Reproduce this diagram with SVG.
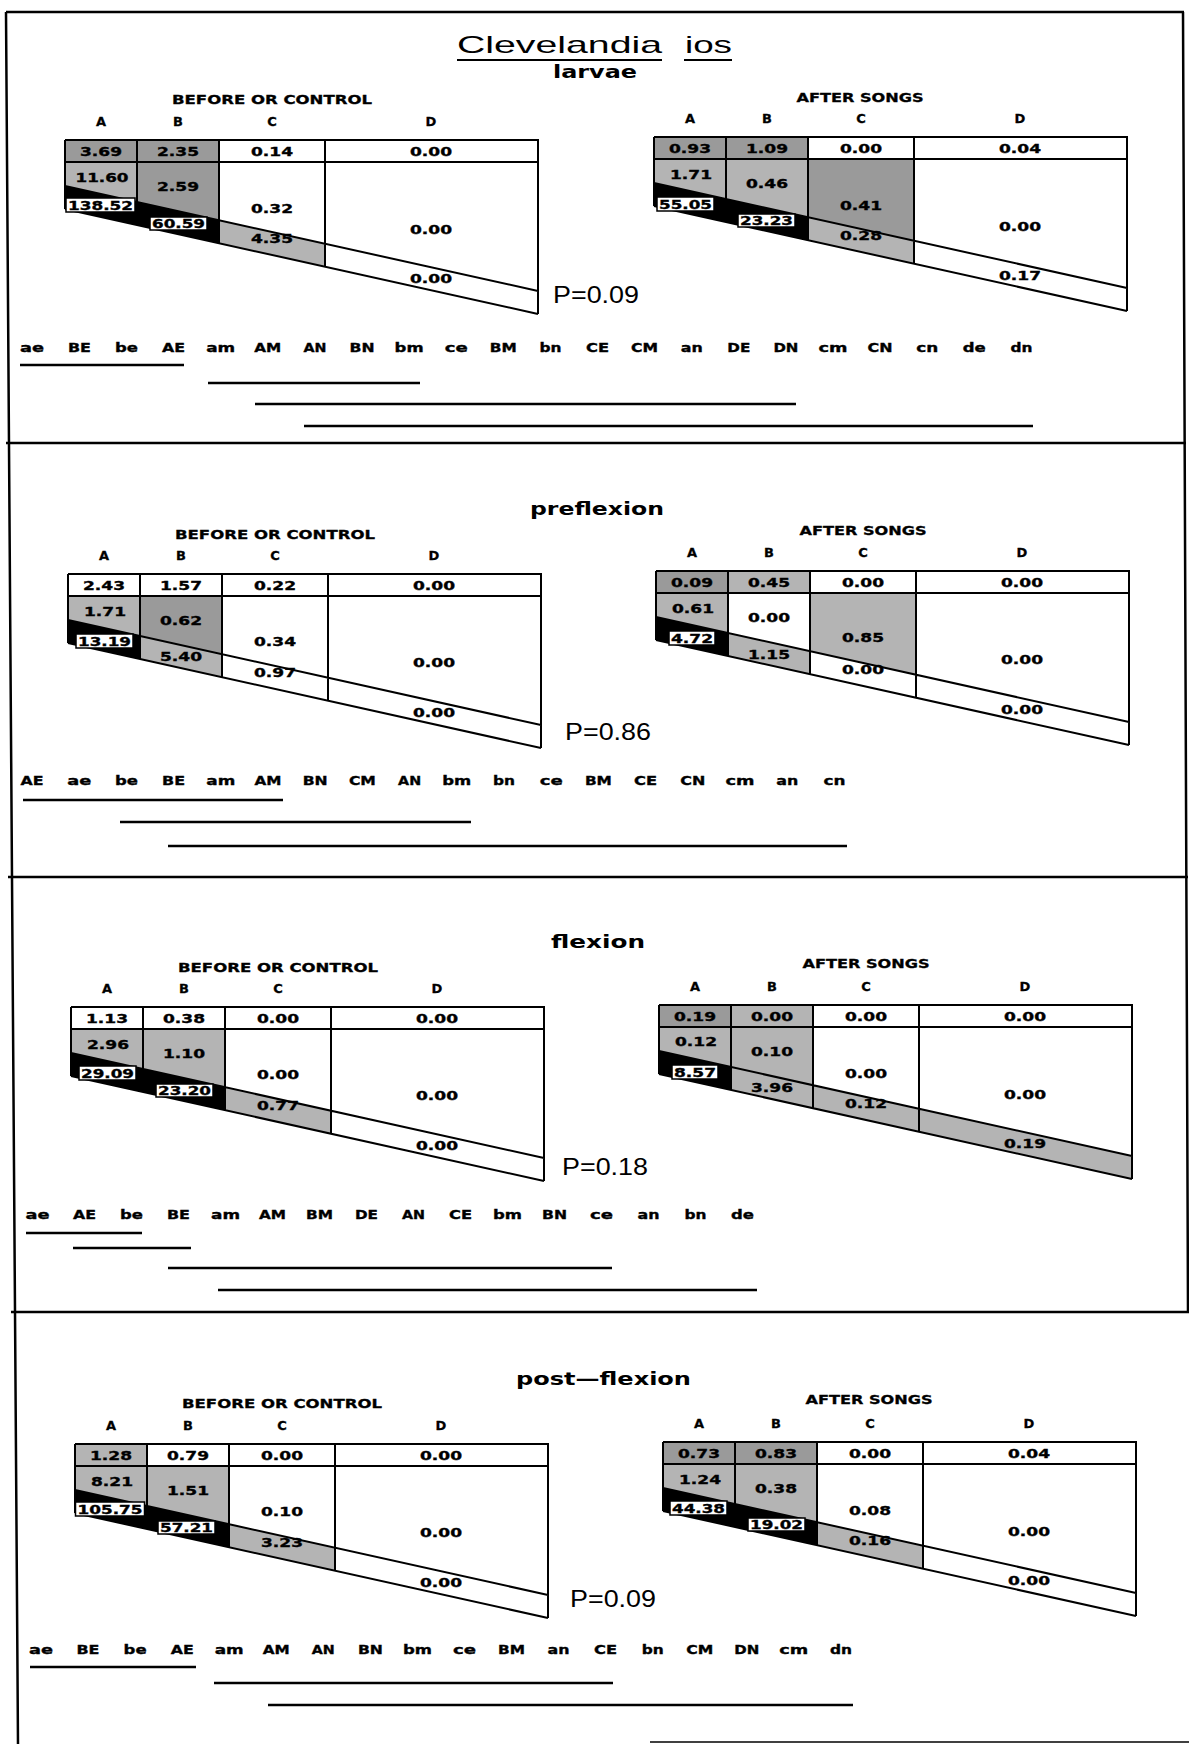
<svg xmlns="http://www.w3.org/2000/svg" xmlns:xlink="http://www.w3.org/1999/xlink" width="1189" height="1744" viewBox="0 0 1189 1744">
<style>
.v{font-family:"DejaVu Sans","Liberation Sans",sans-serif;font-weight:bold;font-size:12px;text-anchor:middle;fill:#000;stroke:#000;stroke-width:0.35}
.hd{font-family:"DejaVu Sans","Liberation Sans",sans-serif;font-weight:bold;font-size:12px;text-anchor:middle;stroke:#000;stroke-width:0.3}
.cl{font-family:"DejaVu Sans","Liberation Sans",sans-serif;font-weight:bold;font-size:13px;text-anchor:middle;stroke:#000;stroke-width:0.3}
.lb{font-family:"DejaVu Sans","Liberation Sans",sans-serif;font-weight:bold;font-size:13px;text-anchor:middle;stroke:#000;stroke-width:0.35}
.ttl{font-family:"Liberation Sans",sans-serif;font-size:24px}
.sub{font-family:"DejaVu Sans","Liberation Sans",sans-serif;font-weight:bold;font-size:17px}
.p{font-family:"Liberation Sans",sans-serif;font-size:23px}
.g1{fill:#b4b4b4}
.g2{fill:#9a9a9a}
.bk{fill:#000}
.bx{fill:#fff;stroke:#000;stroke-width:1.5}
.fr{stroke:#000;stroke-width:2.5;fill:none}
.rl{stroke:#000;stroke-width:2.5;fill:none}
</style>
<defs>
<polygon id="A1" points="0,0 72,0 72,22 0,22"/>
<polygon id="B1" points="72,0 154,0 154,22 72,22"/>
<polygon id="A2" points="0,22 72,22 72,62 0,46"/>
<polygon id="B2" points="72,22 154,22 154,80.2 72,62"/>
<polygon id="C2" points="154,22 260,22 260,103.7 154,80.2"/>
<polygon id="A3" points="0,46 72,62 72,85 0,69"/>
<polygon id="B3" points="72,62 154,80.2 154,103.2 72,85"/>
<polygon id="C3" points="154,80.2 260,103.7 260,126.7 154,103.2"/>
<polygon id="D3" points="260,103.7 473,151 473,174 260,126.7"/>
<path id="grid" d="M0,0 H473 V174 M0,0 V69 M0,22 H473 M72,0 V85 M154,0 V103.2 M260,0 V126.7 M0,46 L473,151 M0,69 L473,174" fill="none" stroke="#000" stroke-width="2"/>
<g id="cols">
<text class="cl" x="36" y="-14">A</text>
<text class="cl" x="113" y="-14">B</text>
<text class="cl" x="207" y="-14">C</text>
<text class="cl" x="366" y="-14">D</text>
</g>
</defs>
<rect x="0" y="0" width="1189" height="1744" fill="#fff"/>

<g id="frame">
<path class="fr" d="M6,12 H1184 M6,12 L18,1744 M1183,12 L1188,1312 M6,443 H1186 M8,877 H1188 M11,1312 H1189"/>
<path d="M650,1742 H1189" stroke="#000" stroke-width="1.5"/>
</g>

<!-- PANEL 1: larvae -->
<g id="panel-larvae">
<g id="title">
<text class="ttl" y="53"><tspan x="457" textLength="205" lengthAdjust="spacingAndGlyphs">Clevelandia</tspan><tspan x="685" textLength="47" lengthAdjust="spacingAndGlyphs">ios</tspan></text>
<path d="M457,60 H662 M684,60 H732" stroke="#000" stroke-width="2"/>
<text class="sub" x="553" y="78" textLength="84" lengthAdjust="spacingAndGlyphs">larvae</text>
</g>
<g id="larvae-before" transform="translate(65,140)">
<use href="#A1" class="g2"/><use href="#B1" class="g2"/><use href="#A2" class="g1"/><use href="#B2" class="g2"/>
<use href="#A3" class="bk"/><use href="#B3" class="bk"/><use href="#C3" class="g1"/>
<use href="#grid"/>
<text class="hd" x="207" y="-36" textLength="200" lengthAdjust="spacingAndGlyphs">BEFORE OR CONTROL</text>
<use href="#cols"/>
<text class="v" x="36" y="16" textLength="42" lengthAdjust="spacingAndGlyphs">3.69</text>
<text class="v" x="113" y="16" textLength="42" lengthAdjust="spacingAndGlyphs">2.35</text>
<text class="v" x="207" y="16" textLength="42" lengthAdjust="spacingAndGlyphs">0.14</text>
<text class="v" x="366" y="16" textLength="42" lengthAdjust="spacingAndGlyphs">0.00</text>
<text class="v" x="37" y="42" textLength="53" lengthAdjust="spacingAndGlyphs">11.60</text>
<text class="v" x="113" y="51" textLength="42" lengthAdjust="spacingAndGlyphs">2.59</text>
<text class="v" x="207" y="73" textLength="42" lengthAdjust="spacingAndGlyphs">0.32</text>
<text class="v" x="366" y="94" textLength="42" lengthAdjust="spacingAndGlyphs">0.00</text>
<rect class="bx" x="1" y="58" width="69" height="14"/>
<text class="v" x="35.5" y="69.5" textLength="65" lengthAdjust="spacingAndGlyphs">138.52</text>
<rect class="bx" x="85" y="77" width="57" height="13"/>
<text class="v" x="113.5" y="88" textLength="53" lengthAdjust="spacingAndGlyphs">60.59</text>
<text class="v" x="207" y="103" textLength="42" lengthAdjust="spacingAndGlyphs">4.35</text>
<text class="v" x="366" y="143" textLength="42" lengthAdjust="spacingAndGlyphs">0.00</text>
</g>
<g id="larvae-after" transform="translate(654,137)">
<use href="#A1" class="g2"/><use href="#B1" class="g2"/><use href="#A2" class="g1"/><use href="#B2" class="g1"/><use href="#C2" class="g2"/>
<use href="#A3" class="bk"/><use href="#B3" class="bk"/><use href="#C3" class="g1"/>
<use href="#grid"/>
<text class="hd" x="206" y="-35" textLength="127" lengthAdjust="spacingAndGlyphs">AFTER SONGS</text>
<use href="#cols"/>
<text class="v" x="36" y="16" textLength="42" lengthAdjust="spacingAndGlyphs">0.93</text>
<text class="v" x="113" y="16" textLength="42" lengthAdjust="spacingAndGlyphs">1.09</text>
<text class="v" x="207" y="16" textLength="42" lengthAdjust="spacingAndGlyphs">0.00</text>
<text class="v" x="366" y="16" textLength="42" lengthAdjust="spacingAndGlyphs">0.04</text>
<text class="v" x="37" y="42" textLength="42" lengthAdjust="spacingAndGlyphs">1.71</text>
<text class="v" x="113" y="51" textLength="42" lengthAdjust="spacingAndGlyphs">0.46</text>
<text class="v" x="207" y="73" textLength="42" lengthAdjust="spacingAndGlyphs">0.41</text>
<text class="v" x="366" y="94" textLength="42" lengthAdjust="spacingAndGlyphs">0.00</text>
<rect class="bx" x="3" y="60" width="57" height="14"/>
<text class="v" x="31.5" y="71.5" textLength="53" lengthAdjust="spacingAndGlyphs">55.05</text>
<rect class="bx" x="84" y="77" width="57" height="13"/>
<text class="v" x="112.5" y="88" textLength="53" lengthAdjust="spacingAndGlyphs">23.23</text>
<text class="v" x="207" y="103" textLength="42" lengthAdjust="spacingAndGlyphs">0.28</text>
<text class="v" x="366" y="143" textLength="42" lengthAdjust="spacingAndGlyphs">0.17</text>
</g>
<text id="p-larvae" class="p" x="553" y="303" textLength="86" lengthAdjust="spacingAndGlyphs">P=0.09</text>
<g id="ranks-larvae">
<text class="lb" x="32" y="352" textLength="24" lengthAdjust="spacingAndGlyphs">ae</text>
<text class="lb" x="79.4" y="352" textLength="23" lengthAdjust="spacingAndGlyphs">BE</text>
<text class="lb" x="126.5" y="352" textLength="23" lengthAdjust="spacingAndGlyphs">be</text>
<text class="lb" x="173.6" y="352" textLength="23" lengthAdjust="spacingAndGlyphs">AE</text>
<text class="lb" x="220.7" y="352" textLength="29" lengthAdjust="spacingAndGlyphs">am</text>
<text class="lb" x="267.8" y="352" textLength="27" lengthAdjust="spacingAndGlyphs">AM</text>
<text class="lb" x="314.9" y="352" textLength="23" lengthAdjust="spacingAndGlyphs">AN</text>
<text class="lb" x="362" y="352" textLength="25" lengthAdjust="spacingAndGlyphs">BN</text>
<text class="lb" x="409.1" y="352" textLength="29" lengthAdjust="spacingAndGlyphs">bm</text>
<text class="lb" x="456.2" y="352" textLength="23" lengthAdjust="spacingAndGlyphs">ce</text>
<text class="lb" x="503.3" y="352" textLength="27" lengthAdjust="spacingAndGlyphs">BM</text>
<text class="lb" x="550.4" y="352" textLength="22" lengthAdjust="spacingAndGlyphs">bn</text>
<text class="lb" x="597.5" y="352" textLength="23" lengthAdjust="spacingAndGlyphs">CE</text>
<text class="lb" x="644.6" y="352" textLength="27" lengthAdjust="spacingAndGlyphs">CM</text>
<text class="lb" x="691.7" y="352" textLength="22" lengthAdjust="spacingAndGlyphs">an</text>
<text class="lb" x="738.8" y="352" textLength="23" lengthAdjust="spacingAndGlyphs">DE</text>
<text class="lb" x="785.9" y="352" textLength="25" lengthAdjust="spacingAndGlyphs">DN</text>
<text class="lb" x="833" y="352" textLength="29" lengthAdjust="spacingAndGlyphs">cm</text>
<text class="lb" x="880.1" y="352" textLength="25" lengthAdjust="spacingAndGlyphs">CN</text>
<text class="lb" x="927.2" y="352" textLength="22" lengthAdjust="spacingAndGlyphs">cn</text>
<text class="lb" x="974.3" y="352" textLength="23" lengthAdjust="spacingAndGlyphs">de</text>
<text class="lb" x="1021.4" y="352" textLength="22" lengthAdjust="spacingAndGlyphs">dn</text>
</g>
<g id="lines-larvae">
<path class="rl" d="M20,365 H184 M208,383 H420 M255,404 H796 M304,426 H1033"/>
</g>
</g>

<!-- PANEL 2: preflexion -->
<g id="panel-preflexion">
<text class="sub" x="530" y="515" textLength="134" lengthAdjust="spacingAndGlyphs">preflexion</text>
<g id="preflexion-before" transform="translate(68,574)">
<use href="#A2" class="g1"/><use href="#B2" class="g2"/>
<use href="#A3" class="bk"/><use href="#B3" class="g1"/>
<use href="#grid"/>
<text class="hd" x="207" y="-35" textLength="200" lengthAdjust="spacingAndGlyphs">BEFORE OR CONTROL</text>
<use href="#cols"/>
<text class="v" x="36" y="16" textLength="42" lengthAdjust="spacingAndGlyphs">2.43</text>
<text class="v" x="113" y="16" textLength="42" lengthAdjust="spacingAndGlyphs">1.57</text>
<text class="v" x="207" y="16" textLength="42" lengthAdjust="spacingAndGlyphs">0.22</text>
<text class="v" x="366" y="16" textLength="42" lengthAdjust="spacingAndGlyphs">0.00</text>
<text class="v" x="37" y="42" textLength="42" lengthAdjust="spacingAndGlyphs">1.71</text>
<text class="v" x="113" y="51" textLength="42" lengthAdjust="spacingAndGlyphs">0.62</text>
<text class="v" x="207" y="72" textLength="42" lengthAdjust="spacingAndGlyphs">0.34</text>
<text class="v" x="366" y="93" textLength="42" lengthAdjust="spacingAndGlyphs">0.00</text>
<rect class="bx" x="8" y="60" width="57" height="14"/>
<text class="v" x="36.5" y="71.5" textLength="53" lengthAdjust="spacingAndGlyphs">13.19</text>
<text class="v" x="113" y="87" textLength="42" lengthAdjust="spacingAndGlyphs">5.40</text>
<text class="v" x="207" y="103" textLength="42" lengthAdjust="spacingAndGlyphs">0.97</text>
<text class="v" x="366" y="143" textLength="42" lengthAdjust="spacingAndGlyphs">0.00</text>
</g>
<g id="preflexion-after" transform="translate(656,571)">
<use href="#A1" class="g2"/><use href="#B1" class="g1"/><use href="#A2" class="g1"/><use href="#C2" class="g1"/>
<use href="#A3" class="bk"/><use href="#B3" class="g1"/>
<use href="#grid"/>
<text class="hd" x="207" y="-36" textLength="127" lengthAdjust="spacingAndGlyphs">AFTER SONGS</text>
<use href="#cols"/>
<text class="v" x="36" y="16" textLength="42" lengthAdjust="spacingAndGlyphs">0.09</text>
<text class="v" x="113" y="16" textLength="42" lengthAdjust="spacingAndGlyphs">0.45</text>
<text class="v" x="207" y="16" textLength="42" lengthAdjust="spacingAndGlyphs">0.00</text>
<text class="v" x="366" y="16" textLength="42" lengthAdjust="spacingAndGlyphs">0.00</text>
<text class="v" x="37" y="42" textLength="42" lengthAdjust="spacingAndGlyphs">0.61</text>
<text class="v" x="113" y="51" textLength="42" lengthAdjust="spacingAndGlyphs">0.00</text>
<text class="v" x="207" y="71" textLength="42" lengthAdjust="spacingAndGlyphs">0.85</text>
<text class="v" x="366" y="93" textLength="42" lengthAdjust="spacingAndGlyphs">0.00</text>
<rect class="bx" x="13" y="60" width="46" height="14"/>
<text class="v" x="36" y="71.5" textLength="42" lengthAdjust="spacingAndGlyphs">4.72</text>
<text class="v" x="113" y="88" textLength="42" lengthAdjust="spacingAndGlyphs">1.15</text>
<text class="v" x="207" y="103" textLength="42" lengthAdjust="spacingAndGlyphs">0.00</text>
<text class="v" x="366" y="143" textLength="42" lengthAdjust="spacingAndGlyphs">0.00</text>
</g>
<text id="p-preflexion" class="p" x="565" y="740" textLength="86" lengthAdjust="spacingAndGlyphs">P=0.86</text>
<g id="ranks-preflexion">
<text class="lb" x="32" y="785" textLength="23" lengthAdjust="spacingAndGlyphs">AE</text>
<text class="lb" x="79.2" y="785" textLength="24" lengthAdjust="spacingAndGlyphs">ae</text>
<text class="lb" x="126.4" y="785" textLength="23" lengthAdjust="spacingAndGlyphs">be</text>
<text class="lb" x="173.6" y="785" textLength="23" lengthAdjust="spacingAndGlyphs">BE</text>
<text class="lb" x="220.8" y="785" textLength="29" lengthAdjust="spacingAndGlyphs">am</text>
<text class="lb" x="268" y="785" textLength="27" lengthAdjust="spacingAndGlyphs">AM</text>
<text class="lb" x="315.2" y="785" textLength="25" lengthAdjust="spacingAndGlyphs">BN</text>
<text class="lb" x="362.4" y="785" textLength="27" lengthAdjust="spacingAndGlyphs">CM</text>
<text class="lb" x="409.6" y="785" textLength="23" lengthAdjust="spacingAndGlyphs">AN</text>
<text class="lb" x="456.8" y="785" textLength="29" lengthAdjust="spacingAndGlyphs">bm</text>
<text class="lb" x="504" y="785" textLength="22" lengthAdjust="spacingAndGlyphs">bn</text>
<text class="lb" x="551.2" y="785" textLength="23" lengthAdjust="spacingAndGlyphs">ce</text>
<text class="lb" x="598.4" y="785" textLength="27" lengthAdjust="spacingAndGlyphs">BM</text>
<text class="lb" x="645.6" y="785" textLength="23" lengthAdjust="spacingAndGlyphs">CE</text>
<text class="lb" x="692.8" y="785" textLength="25" lengthAdjust="spacingAndGlyphs">CN</text>
<text class="lb" x="740" y="785" textLength="29" lengthAdjust="spacingAndGlyphs">cm</text>
<text class="lb" x="787.2" y="785" textLength="22" lengthAdjust="spacingAndGlyphs">an</text>
<text class="lb" x="834.4" y="785" textLength="22" lengthAdjust="spacingAndGlyphs">cn</text>
</g>
<g id="lines-preflexion">
<path class="rl" d="M23,800 H283 M120,822 H471 M168,846 H847"/>
</g>
</g>

<!-- PANEL 3: flexion -->
<g id="panel-flexion">
<text class="sub" x="551" y="948" textLength="94" lengthAdjust="spacingAndGlyphs">flexion</text>
<g id="flexion-before" transform="translate(71,1007)">
<use href="#A2" class="g1"/><use href="#B2" class="g1"/>
<use href="#A3" class="bk"/><use href="#B3" class="bk"/><use href="#C3" class="g1"/>
<use href="#grid"/>
<text class="hd" x="207" y="-35" textLength="200" lengthAdjust="spacingAndGlyphs">BEFORE OR CONTROL</text>
<use href="#cols"/>
<text class="v" x="36" y="16" textLength="42" lengthAdjust="spacingAndGlyphs">1.13</text>
<text class="v" x="113" y="16" textLength="42" lengthAdjust="spacingAndGlyphs">0.38</text>
<text class="v" x="207" y="16" textLength="42" lengthAdjust="spacingAndGlyphs">0.00</text>
<text class="v" x="366" y="16" textLength="42" lengthAdjust="spacingAndGlyphs">0.00</text>
<text class="v" x="37" y="42" textLength="42" lengthAdjust="spacingAndGlyphs">2.96</text>
<text class="v" x="113" y="51" textLength="42" lengthAdjust="spacingAndGlyphs">1.10</text>
<text class="v" x="207" y="72" textLength="42" lengthAdjust="spacingAndGlyphs">0.00</text>
<text class="v" x="366" y="93" textLength="42" lengthAdjust="spacingAndGlyphs">0.00</text>
<rect class="bx" x="8" y="59" width="57" height="14"/>
<text class="v" x="36.5" y="70.5" textLength="53" lengthAdjust="spacingAndGlyphs">29.09</text>
<rect class="bx" x="85" y="77" width="57" height="13"/>
<text class="v" x="113.5" y="88" textLength="53" lengthAdjust="spacingAndGlyphs">23.20</text>
<text class="v" x="207" y="103" textLength="42" lengthAdjust="spacingAndGlyphs">0.77</text>
<text class="v" x="366" y="143" textLength="42" lengthAdjust="spacingAndGlyphs">0.00</text>
</g>
<g id="flexion-after" transform="translate(659,1005)">
<use href="#A1" class="g2"/><use href="#B1" class="g1"/><use href="#A2" class="g1"/><use href="#B2" class="g1"/>
<use href="#A3" class="bk"/><use href="#B3" class="g1"/><use href="#C3" class="g1"/><use href="#D3" class="g1"/>
<use href="#grid"/>
<text class="hd" x="207" y="-37" textLength="127" lengthAdjust="spacingAndGlyphs">AFTER SONGS</text>
<use href="#cols"/>
<text class="v" x="36" y="16" textLength="42" lengthAdjust="spacingAndGlyphs">0.19</text>
<text class="v" x="113" y="16" textLength="42" lengthAdjust="spacingAndGlyphs">0.00</text>
<text class="v" x="207" y="16" textLength="42" lengthAdjust="spacingAndGlyphs">0.00</text>
<text class="v" x="366" y="16" textLength="42" lengthAdjust="spacingAndGlyphs">0.00</text>
<text class="v" x="37" y="41" textLength="42" lengthAdjust="spacingAndGlyphs">0.12</text>
<text class="v" x="113" y="51" textLength="42" lengthAdjust="spacingAndGlyphs">0.10</text>
<text class="v" x="207" y="73" textLength="42" lengthAdjust="spacingAndGlyphs">0.00</text>
<text class="v" x="366" y="94" textLength="42" lengthAdjust="spacingAndGlyphs">0.00</text>
<rect class="bx" x="13" y="60" width="46" height="14"/>
<text class="v" x="36" y="71.5" textLength="42" lengthAdjust="spacingAndGlyphs">8.57</text>
<text class="v" x="113" y="87" textLength="42" lengthAdjust="spacingAndGlyphs">3.96</text>
<text class="v" x="207" y="103" textLength="42" lengthAdjust="spacingAndGlyphs">0.12</text>
<text class="v" x="366" y="143" textLength="42" lengthAdjust="spacingAndGlyphs">0.19</text>
</g>
<text id="p-flexion" class="p" x="562" y="1175" textLength="86" lengthAdjust="spacingAndGlyphs">P=0.18</text>
<g id="ranks-flexion">
<text class="lb" x="37.5" y="1219" textLength="24" lengthAdjust="spacingAndGlyphs">ae</text>
<text class="lb" x="84.5" y="1219" textLength="23" lengthAdjust="spacingAndGlyphs">AE</text>
<text class="lb" x="131.5" y="1219" textLength="23" lengthAdjust="spacingAndGlyphs">be</text>
<text class="lb" x="178.5" y="1219" textLength="23" lengthAdjust="spacingAndGlyphs">BE</text>
<text class="lb" x="225.5" y="1219" textLength="29" lengthAdjust="spacingAndGlyphs">am</text>
<text class="lb" x="272.5" y="1219" textLength="27" lengthAdjust="spacingAndGlyphs">AM</text>
<text class="lb" x="319.5" y="1219" textLength="27" lengthAdjust="spacingAndGlyphs">BM</text>
<text class="lb" x="366.5" y="1219" textLength="23" lengthAdjust="spacingAndGlyphs">DE</text>
<text class="lb" x="413.5" y="1219" textLength="23" lengthAdjust="spacingAndGlyphs">AN</text>
<text class="lb" x="460.5" y="1219" textLength="23" lengthAdjust="spacingAndGlyphs">CE</text>
<text class="lb" x="507.5" y="1219" textLength="29" lengthAdjust="spacingAndGlyphs">bm</text>
<text class="lb" x="554.5" y="1219" textLength="25" lengthAdjust="spacingAndGlyphs">BN</text>
<text class="lb" x="601.5" y="1219" textLength="23" lengthAdjust="spacingAndGlyphs">ce</text>
<text class="lb" x="648.5" y="1219" textLength="22" lengthAdjust="spacingAndGlyphs">an</text>
<text class="lb" x="695.5" y="1219" textLength="22" lengthAdjust="spacingAndGlyphs">bn</text>
<text class="lb" x="742.5" y="1219" textLength="23" lengthAdjust="spacingAndGlyphs">de</text>
</g>
<g id="lines-flexion">
<path class="rl" d="M26,1233 H142 M73,1248 H191 M168,1268 H612 M218,1290 H757"/>
</g>
</g>

<!-- PANEL 4: post-flexion -->
<g id="panel-postflexion">
<text class="sub" x="516" y="1385" textLength="175" lengthAdjust="spacingAndGlyphs">post—flexion</text>
<g id="postflexion-before" transform="translate(75,1444)">
<use href="#A1" class="g1"/><use href="#A2" class="g1"/><use href="#B2" class="g1"/>
<use href="#A3" class="bk"/><use href="#B3" class="bk"/><use href="#C3" class="g1"/>
<use href="#grid"/>
<text class="hd" x="207" y="-36" textLength="200" lengthAdjust="spacingAndGlyphs">BEFORE OR CONTROL</text>
<use href="#cols"/>
<text class="v" x="36" y="16" textLength="42" lengthAdjust="spacingAndGlyphs">1.28</text>
<text class="v" x="113" y="16" textLength="42" lengthAdjust="spacingAndGlyphs">0.79</text>
<text class="v" x="207" y="16" textLength="42" lengthAdjust="spacingAndGlyphs">0.00</text>
<text class="v" x="366" y="16" textLength="42" lengthAdjust="spacingAndGlyphs">0.00</text>
<text class="v" x="37" y="42" textLength="42" lengthAdjust="spacingAndGlyphs">8.21</text>
<text class="v" x="113" y="51" textLength="42" lengthAdjust="spacingAndGlyphs">1.51</text>
<text class="v" x="207" y="72" textLength="42" lengthAdjust="spacingAndGlyphs">0.10</text>
<text class="v" x="366" y="93" textLength="42" lengthAdjust="spacingAndGlyphs">0.00</text>
<rect class="bx" x="0.5" y="58" width="69" height="14"/>
<text class="v" x="35" y="69.5" textLength="65" lengthAdjust="spacingAndGlyphs">105.75</text>
<rect class="bx" x="83" y="77" width="57" height="13"/>
<text class="v" x="111.5" y="88" textLength="53" lengthAdjust="spacingAndGlyphs">57.21</text>
<text class="v" x="207" y="103" textLength="42" lengthAdjust="spacingAndGlyphs">3.23</text>
<text class="v" x="366" y="143" textLength="42" lengthAdjust="spacingAndGlyphs">0.00</text>
</g>
<g id="postflexion-after" transform="translate(663,1442)">
<use href="#A1" class="g2"/><use href="#B1" class="g2"/><use href="#A2" class="g1"/><use href="#B2" class="g1"/>
<use href="#A3" class="bk"/><use href="#B3" class="bk"/><use href="#C3" class="g1"/>
<use href="#grid"/>
<text class="hd" x="206" y="-38" textLength="127" lengthAdjust="spacingAndGlyphs">AFTER SONGS</text>
<use href="#cols"/>
<text class="v" x="36" y="16" textLength="42" lengthAdjust="spacingAndGlyphs">0.73</text>
<text class="v" x="113" y="16" textLength="42" lengthAdjust="spacingAndGlyphs">0.83</text>
<text class="v" x="207" y="16" textLength="42" lengthAdjust="spacingAndGlyphs">0.00</text>
<text class="v" x="366" y="16" textLength="42" lengthAdjust="spacingAndGlyphs">0.04</text>
<text class="v" x="37" y="42" textLength="42" lengthAdjust="spacingAndGlyphs">1.24</text>
<text class="v" x="113" y="51" textLength="42" lengthAdjust="spacingAndGlyphs">0.38</text>
<text class="v" x="207" y="73" textLength="42" lengthAdjust="spacingAndGlyphs">0.08</text>
<text class="v" x="366" y="94" textLength="42" lengthAdjust="spacingAndGlyphs">0.00</text>
<rect class="bx" x="7" y="59" width="57" height="14"/>
<text class="v" x="35.5" y="70.5" textLength="53" lengthAdjust="spacingAndGlyphs">44.38</text>
<rect class="bx" x="85" y="76" width="57" height="13"/>
<text class="v" x="113.5" y="87" textLength="53" lengthAdjust="spacingAndGlyphs">19.02</text>
<text class="v" x="207" y="103" textLength="42" lengthAdjust="spacingAndGlyphs">0.16</text>
<text class="v" x="366" y="143" textLength="42" lengthAdjust="spacingAndGlyphs">0.00</text>
</g>
<text id="p-postflexion" class="p" x="570" y="1607" textLength="86" lengthAdjust="spacingAndGlyphs">P=0.09</text>
<g id="ranks-postflexion">
<text class="lb" x="41" y="1654" textLength="24" lengthAdjust="spacingAndGlyphs">ae</text>
<text class="lb" x="88" y="1654" textLength="23" lengthAdjust="spacingAndGlyphs">BE</text>
<text class="lb" x="135.1" y="1654" textLength="23" lengthAdjust="spacingAndGlyphs">be</text>
<text class="lb" x="182.2" y="1654" textLength="23" lengthAdjust="spacingAndGlyphs">AE</text>
<text class="lb" x="229.2" y="1654" textLength="29" lengthAdjust="spacingAndGlyphs">am</text>
<text class="lb" x="276.3" y="1654" textLength="27" lengthAdjust="spacingAndGlyphs">AM</text>
<text class="lb" x="323.3" y="1654" textLength="23" lengthAdjust="spacingAndGlyphs">AN</text>
<text class="lb" x="370.4" y="1654" textLength="25" lengthAdjust="spacingAndGlyphs">BN</text>
<text class="lb" x="417.4" y="1654" textLength="29" lengthAdjust="spacingAndGlyphs">bm</text>
<text class="lb" x="464.5" y="1654" textLength="23" lengthAdjust="spacingAndGlyphs">ce</text>
<text class="lb" x="511.5" y="1654" textLength="27" lengthAdjust="spacingAndGlyphs">BM</text>
<text class="lb" x="558.6" y="1654" textLength="22" lengthAdjust="spacingAndGlyphs">an</text>
<text class="lb" x="605.6" y="1654" textLength="23" lengthAdjust="spacingAndGlyphs">CE</text>
<text class="lb" x="652.7" y="1654" textLength="22" lengthAdjust="spacingAndGlyphs">bn</text>
<text class="lb" x="699.7" y="1654" textLength="27" lengthAdjust="spacingAndGlyphs">CM</text>
<text class="lb" x="746.8" y="1654" textLength="25" lengthAdjust="spacingAndGlyphs">DN</text>
<text class="lb" x="793.8" y="1654" textLength="29" lengthAdjust="spacingAndGlyphs">cm</text>
<text class="lb" x="840.9" y="1654" textLength="22" lengthAdjust="spacingAndGlyphs">dn</text>
</g>
<g id="lines-postflexion">
<path class="rl" d="M30,1667 H196 M214,1683 H613 M268,1705 H853"/>
</g>
</g>
</svg>
